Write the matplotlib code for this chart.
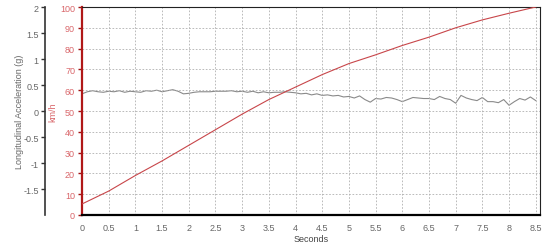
import matplotlib
matplotlib.use('Agg')
import matplotlib.pyplot as plt

plt.rcParams['font.family'] = ['Liberation Sans', 'DejaVu Sans']

# speed trace (km/h) sampled every 0.5 s
speed_t = [0, 0.5, 1, 1.5, 2, 2.5, 3, 3.5, 4, 4.5, 5, 5.5, 6, 6.5, 7, 7.5, 8, 8.5]
speed_kmh = [5.3, 11.5, 19, 26, 33.5, 41, 48.5, 55.5, 61.5, 67.5, 72.8, 77,
             81.5, 85.5, 90, 93.8, 97, 100]

# longitudinal acceleration (g) sampled every 0.1 s
accel_g = [0.33, 0.37, 0.39, 0.37, 0.36, 0.38, 0.37, 0.39, 0.36, 0.38, 0.37,
           0.36, 0.39, 0.38, 0.40, 0.37, 0.39, 0.41, 0.38, 0.33, 0.34,
           0.36, 0.37, 0.37, 0.37, 0.38, 0.38, 0.38, 0.39, 0.37, 0.38,
           0.36, 0.38, 0.35, 0.37, 0.35, 0.36, 0.36, 0.37, 0.36, 0.35,
           0.33, 0.34, 0.31, 0.33, 0.30, 0.31, 0.29, 0.30, 0.27, 0.28,
           0.25, 0.29, 0.22, 0.17, 0.24, 0.23, 0.26, 0.25, 0.22, 0.18,
           0.22, 0.26, 0.25, 0.24, 0.24, 0.22, 0.28, 0.24, 0.22, 0.15,
           0.30, 0.25, 0.22, 0.20, 0.26, 0.18, 0.18, 0.16, 0.22, 0.11,
           0.18, 0.24, 0.21, 0.27, 0.20]
accel_t = [i * 0.1 for i in range(len(accel_g))]

x_ticks = [i * 0.5 for i in range(18)]
x_labels = ['0', '0.5', '1', '1.5', '2', '2.5', '3', '3.5', '4', '4.5', '5',
            '5.5', '6', '6.5', '7', '7.5', '8', '8.5']
kmh_ticks = list(range(0, 101, 10))
g_ticks = [-1.5, -1, -0.5, 0, 0.5, 1, 1.5, 2]

red = '#c8464a'
lbl_red = '#d9666a'
gray_txt = '#666666'

fig = plt.figure(figsize=(5.5, 2.53), dpi=100)
ax = fig.add_axes([82 / 550, 37 / 253, 458 / 550, 208 / 253])

# g axis on the far left (37 px left of the speed axis)
axg = ax.twinx()
axg.set_ylim(-2, 2)
axg.yaxis.set_ticks_position('left')
axg.yaxis.set_label_position('left')
axg.spines['left'].set_position(('outward', 37 * 0.72))
axg.spines['left'].set_color('#333333')
axg.spines['left'].set_linewidth(1.2)
for s in ['right', 'top', 'bottom']:
    axg.spines[s].set_visible(False)
axg.set_yticks(g_ticks)
axg.set_yticklabels([('%g' % v) for v in g_ticks])
axg.tick_params(axis='y', labelsize=6.5, labelcolor=gray_txt, color='#333333',
                length=3, width=1, pad=1.5)
axg.set_ylabel('Longitudinal Acceleration (g)', fontsize=6.5, color=gray_txt)
axg.yaxis.set_label_coords(-58 / 458, 0.5)
axg.plot(accel_t, accel_g, color='#8a8a8a', lw=0.8, zorder=3)

# speed axis
ax.plot(speed_t, speed_kmh, color=red, lw=0.8, zorder=4)
ax.set_xlim(0, 8.58)
ax.set_ylim(0, 100)
ax.set_xticks(x_ticks)
ax.set_xticklabels(x_labels)
ax.set_yticks(kmh_ticks)
ax.tick_params(axis='x', labelsize=6.5, labelcolor=gray_txt, length=0, pad=6)
ax.tick_params(axis='y', labelsize=6.5, labelcolor=lbl_red, color='#a01010',
               length=3, width=1, pad=2)
ax.set_ylabel('km/h', fontsize=6.5, color=lbl_red)
ax.yaxis.set_label_coords(-25 / 458, 0.5)
ax.set_xlabel('Seconds', fontsize=6.5, color='#444444', labelpad=1)
ax.grid(True, color='#b0b0b0', linestyle=(0, (2, 2)), lw=0.6)
ax.spines['left'].set_color('#b01818')
ax.spines['left'].set_linewidth(1.6)
ax.spines['bottom'].set_linewidth(1.6)
ax.spines['bottom'].set_color('black')
ax.spines['right'].set_color('#222222')
ax.spines['top'].set_color('#222222')
ax.set_zorder(axg.get_zorder() + 1)
ax.patch.set_visible(False)

fig.savefig('out.png', dpi=100)
